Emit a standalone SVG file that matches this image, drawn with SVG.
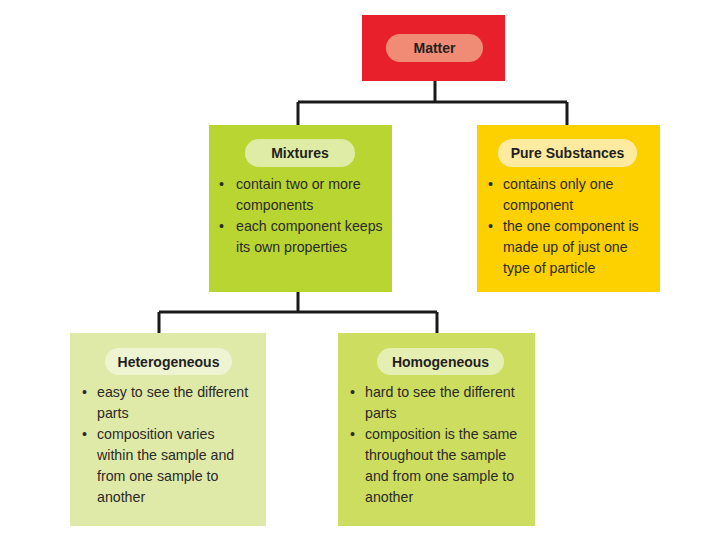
<svg xmlns="http://www.w3.org/2000/svg" width="720" height="540" viewBox="0 0 720 540">
<style>
.title{font-family:"Liberation Sans",Arial,sans-serif;font-weight:bold;font-size:14px;fill:#231f20;text-anchor:middle;dominant-baseline:central}
.body{font-family:"Liberation Sans",Arial,sans-serif;font-size:14.2px;fill:#2b2a29}
.conn{fill:none;stroke:#1a1a1a;stroke-width:3}
</style>
<rect width="720" height="540" fill="#ffffff"/>
<g id="connectors">
<path class="conn" d="M435 81 V102 M298 102 H567 M298 102 V125 M567 102 V125"/>
<path class="conn" d="M298 292 V312 M159 312 H437 M159 312 V333 M437 312 V333"/>
</g>
<g id="matter">
<rect x="362" y="15" width="143" height="66" fill="#e8202c"/>
<rect x="386" y="34" width="97" height="28" rx="14" fill="#f08c76"/>
<text class="title" x="434.5" y="48">Matter</text>
</g>
<g id="mixtures">
<rect x="209" y="125" width="183" height="167" fill="#b9d532"/>
<rect x="245" y="139" width="110" height="28" rx="14" fill="#dfeca6"/>
<text class="title" x="300" y="153">Mixtures</text>
<text class="body"><tspan x="219" y="189">•</tspan><tspan x="236" y="189">contain two or more</tspan><tspan x="236" y="210">components</tspan><tspan x="219" y="231">•</tspan><tspan x="236" y="231">each component keeps</tspan><tspan x="236" y="252">its own properties</tspan></text>
</g>
<g id="pure">
<rect x="477" y="125" width="183" height="167" fill="#fdd000"/>
<rect x="498" y="139" width="139" height="28" rx="14" fill="#feeba0"/>
<text class="title" x="567.5" y="153">Pure Substances</text>
<text class="body"><tspan x="488" y="189">•</tspan><tspan x="503" y="189">contains only one</tspan><tspan x="503" y="210">component</tspan><tspan x="488" y="231">•</tspan><tspan x="503" y="231">the one component is</tspan><tspan x="503" y="252">made up of just one</tspan><tspan x="503" y="273">type of particle</tspan></text>
</g>
<g id="heterogeneous">
<rect x="70" y="333" width="196" height="193" fill="#dfe9a8"/>
<rect x="105" y="348" width="127" height="27" rx="13.5" fill="#eef4d2"/>
<text class="title" x="168.5" y="361.5">Heterogeneous</text>
<text class="body"><tspan x="82" y="397">•</tspan><tspan x="97" y="397">easy to see the different</tspan><tspan x="97" y="418">parts</tspan><tspan x="82" y="439">•</tspan><tspan x="97" y="439">composition varies</tspan><tspan x="97" y="460">within the sample and</tspan><tspan x="97" y="481">from one sample to</tspan><tspan x="97" y="502">another</tspan></text>
</g>
<g id="homogeneous">
<rect x="338" y="333" width="197" height="193" fill="#cddd60"/>
<rect x="377" y="348" width="127" height="27" rx="13.5" fill="#e6efb2"/>
<text class="title" x="440.5" y="361.5">Homogeneous</text>
<text class="body"><tspan x="350" y="397">•</tspan><tspan x="365" y="397">hard to see the different</tspan><tspan x="365" y="418">parts</tspan><tspan x="350" y="439">•</tspan><tspan x="365" y="439">composition is the same</tspan><tspan x="365" y="460">throughout the sample</tspan><tspan x="365" y="481">and from one sample to</tspan><tspan x="365" y="502">another</tspan></text>
</g>
</svg>
